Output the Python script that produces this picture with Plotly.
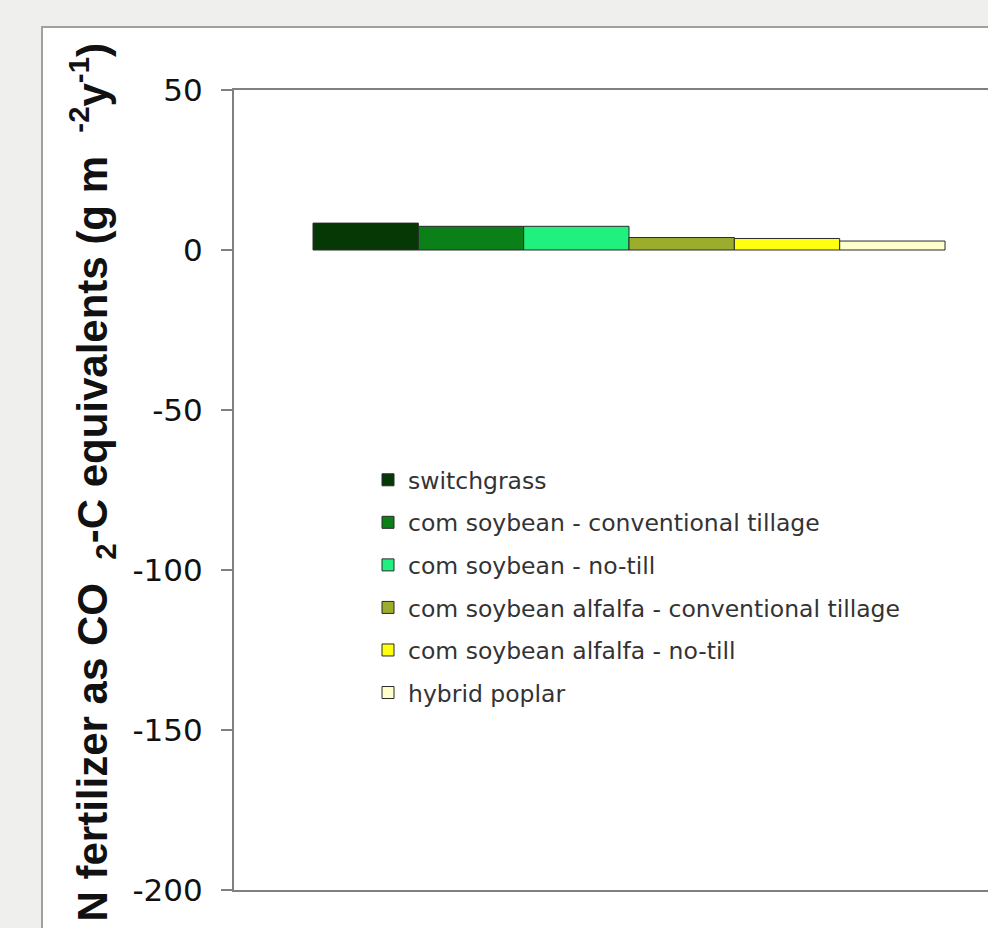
import plotly.graph_objects as go

series = [
    "switchgrass",
    "com soybean - conventional tillage",
    "com soybean - no-till",
    "com soybean alfalfa - conventional tillage",
    "com soybean alfalfa - no-till",
    "hybrid poplar",
]
values = [8.4, 7.4, 7.4, 3.9, 3.6, 2.8]
colors = ["#063806", "#0B8018", "#1FF07E", "#9CAD2E", "#FFFF10", "#FFFFCC"]
category = [""]
y_ticks = [50, 0, -50, -100, -150, -200]

W, H = 988, 928
L, T, B = 234, 90, 38
PW = W - L
PH = H - T - B

def px_x(p):
    return (p - L) / PW

def px_y(p):
    return (H - B - p) / PH

fig = go.Figure()
for i, (name, v, c) in enumerate(zip(series, values, colors)):
    fig.add_trace(go.Bar(
        x=category, y=[v], name=name,
        marker=dict(color=c, line=dict(color="#2a2a2a", width=1)),
        legendgroup=f"g{i}",
    ))

fig.add_shape(type="rect", xref="paper", yref="paper",
              x0=px_x(42), x1=1.3, y0=-0.3, y1=px_y(27),
              fillcolor="white", line=dict(color="#a0a0a0", width=2), layer="below")

fig.add_annotation(
    text="N fertilizer as CO\u00a0\u00a0<sub>2</sub>-C equivalents (g m\u00a0\u00a0<sup>-2</sup>y<sup>-1</sup>)",
    xref="paper", yref="paper", x=px_x(92), y=px_y(41),
    xanchor="center", yanchor="top", textangle=-90, showarrow=False,
    font=dict(family="Liberation Sans, Arial", size=42, color="#111111", weight="bold"),
)

fig.update_layout(
    width=W, height=H,
    margin=dict(l=L, r=0, t=T, b=B, pad=0),
    paper_bgcolor="#efefed",
    plot_bgcolor="white",
    barmode="group", bargap=0.2, bargroupgap=0,
    showlegend=True,
    legend=dict(
        x=px_x(368), y=px_y(458), xanchor="left", yanchor="top",
        bgcolor="rgba(0,0,0,0)", tracegroupgap=9, traceorder="grouped",
        font=dict(family="DejaVu Sans", size=23.5, color="#333333"),
    ),
    xaxis=dict(
        type="category", range=[-0.5, 0.4544], showticklabels=False, ticks="",
        showline=True, mirror=True, linecolor="#808080", linewidth=2,
        showgrid=False, zeroline=False, fixedrange=True,
    ),
    yaxis=dict(
        range=[-200, 50], tickvals=y_ticks, ticktext=[str(t) for t in y_ticks],
        ticks="outside", ticklen=11, tickcolor="#808080", tickwidth=2,
        showline=True, linecolor="#808080", linewidth=2,
        showgrid=False, zeroline=False, ticklabelstandoff=12,
        tickfont=dict(family="DejaVu Sans", size=31, color="#111111"),
    ),
)

fig.write_html("out.html", config={"displayModeBar": False},
               post_script="document.body.style.margin='0';document.body.style.overflow='hidden';")
